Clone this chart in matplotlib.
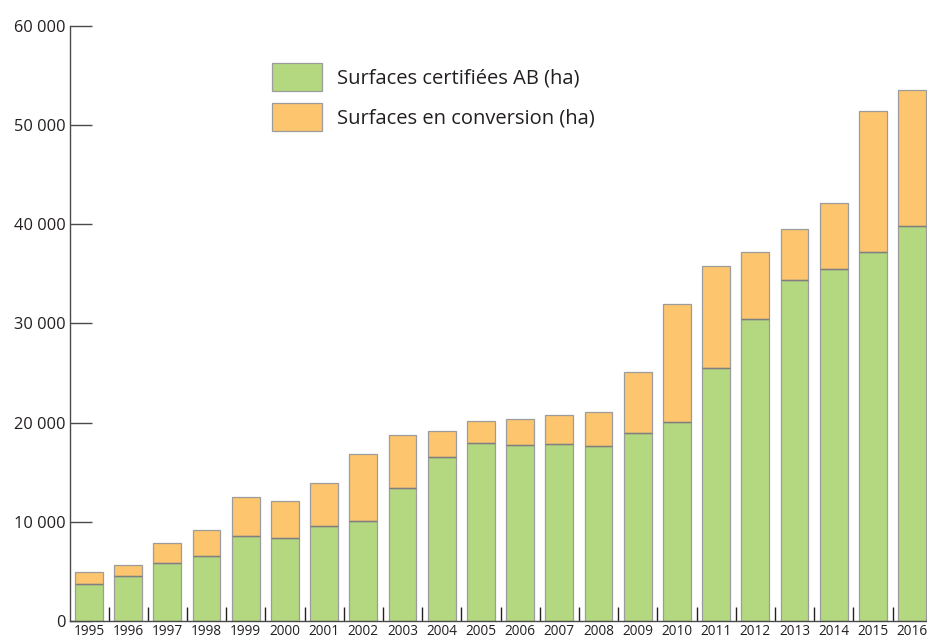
import matplotlib
matplotlib.use("Agg")
import matplotlib.pyplot as plt
import numpy as np
from matplotlib.patches import Patch

plt.rcParams['font.family'] = ['Open Sans', 'DejaVu Sans']

years = [str(y) for y in range(1995, 2017)]
certifiees = [3700, 4500, 5850, 6550, 8550, 8390, 9600, 10040, 13420, 16480, 17960,
              17690, 17820, 17650, 18900, 20070, 25480, 30480, 34410, 35480, 37190, 39850]
totals = [4900, 5600, 7850, 9150, 12500, 12050, 13870, 16790, 18760, 19130, 20110,
          20340, 20750, 21020, 25110, 31920, 35780, 37190, 39480, 42090, 51390, 53540]
conversion = [t - c for t, c in zip(totals, certifiees)]
yticks = [0, 10000, 20000, 30000, 40000, 50000, 60000]
ytick_labels = ["0", "10 000", "20 000", "30 000", "40 000", "50 000", "60 000"]
legend_labels = ["Surfaces certifiées AB (ha)", "Surfaces en conversion (ha)"]

green = "#b3d87f"
orange = "#fdc56d"
edge = "#9c9c9c"
axc = "#4a4a4a"

fig = plt.figure(figsize=(9.27, 6.37), dpi=100)
ax = fig.add_axes([0.0755, 0.0251, 0.9245, 0.9346])

x = np.arange(len(years))
w = 0.71
ax.bar(x, certifiees, width=w, color=green, edgecolor=edge, linewidth=0.9, zorder=2)
ax.bar(x, conversion, width=w, bottom=certifiees, color=orange, edgecolor=edge, linewidth=0.9, zorder=2)
# divider line between segments
ax.hlines(certifiees, x - w/2, x + w/2, colors="#7f7f7f", linewidth=1.0, zorder=3)

ax.set_xlim(-0.485, 21.38)
ax.set_ylim(0, 60000)

ax.set_yticks(yticks)
ax.set_yticklabels(ytick_labels, fontsize=11.8, color="#231f20")
ax.tick_params(axis='y', direction='in', length=16, width=1.0, color=axc, pad=3)

ax.set_xticks(x)
ax.set_xticklabels(years, fontsize=9.8, color="#231f20")
ax.tick_params(axis='x', which='major', length=0, pad=2)
ax.set_xticks(x[:-1] + 0.5, minor=True)
ax.tick_params(axis='x', which='minor', direction='in', length=10, width=1.0, color="#222222")

for s in ['top', 'right']:
    ax.spines[s].set_visible(False)
for s in ['left', 'bottom']:
    ax.spines[s].set_color(axc)
    ax.spines[s].set_linewidth(1.0)

handles = [Patch(facecolor=green, edgecolor=edge, linewidth=0.9),
           Patch(facecolor=orange, edgecolor=edge, linewidth=0.9)]
leg = ax.legend(handles, legend_labels, loc='upper left', bbox_to_anchor=(0.2357, 0.9373),
                frameon=False, fontsize=14.5, handlelength=2.5, handleheight=1.75,
                handletextpad=0.75, labelspacing=0.6, borderaxespad=0, borderpad=0)
for t in leg.get_texts():
    t.set_color("#231f20")

fig.savefig("out.png", dpi=100)
